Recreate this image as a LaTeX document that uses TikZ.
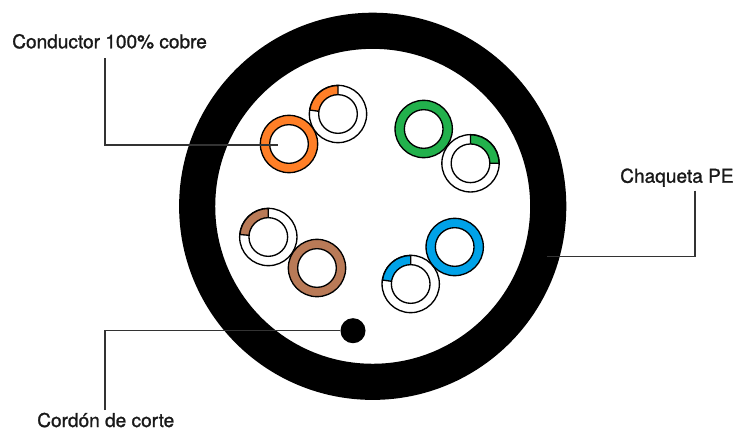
\documentclass[tikz,border=0pt]{standalone}
\usepackage{fontspec}
\setmainfont{TeX Gyre Heros}[FakeBold=1.2]
\definecolor{ink}{HTML}{333333}
\definecolor{cuorange}{HTML}{FF7F27}
\definecolor{cugreen}{HTML}{22B14C}
\definecolor{cublue}{HTML}{00A2E8}
\definecolor{cubrown}{HTML}{B97A57}

\begin{document}
\begin{tikzpicture}[x=0.75pt,y=0.75pt,
  jacket/.style={circle, draw=black, line width=27.1pt, minimum size=263.3pt, inner sep=0pt},
  wire/.style={circle, draw=black, line width=1pt, minimum size=43pt, inner sep=0pt},
  core/.style={circle, draw=black, line width=1pt, fill=white, minimum size=29pt, inner sep=0pt},
  ripcord/.style={circle, fill=black, minimum size=18.8pt, inner sep=0pt},
  lead/.style={draw=ink, line width=0.8pt},
  label/.style={font=\fontsize{14.3}{17}\selectfont, text=black!90, inner sep=0pt}]

\useasboundingbox (0,0) rectangle (746,430);

% ------------------------------------------------------------------ jacket
\node[jacket] (pe) at (372.7,223.7) {};

% striped wires: colour band on a quarter of the insulation
\foreach \name/\x/\y/\col/\from/\to in {
    stripeO/338/316/cuorange/90/172,
    stripeG/470.5/266.7/cugreen/0/90,
    stripeB/410.7/146/cublue/90/172,
    stripeN/268.3/193/cubrown/90/175} {
  \node[wire, fill=white] (\name) at (\x,\y) {};
  \draw[fill=\col, line width=1pt]
    (\x,\y) ++(\from:28.5) arc (\from:\to:28.5) -- ++(\to:-9.5) arc (\to:\from:19) -- cycle;
  \node[core] at (\name.center) {};
}

% solid wires
\foreach \name/\x/\y/\col in {
    solidO/289/286/cuorange,
    solidG/423.7/301/cugreen,
    solidB/454.7/183/cublue,
    solidN/317/162/cubrown} {
  \node[wire, fill=\col] (\name) at (\x,\y) {};
  \node[core] at (\name.center) {};
}

\node[ripcord] (cut) at (353,99.3) {};

% ------------------------------------------------------------------ labels
\node[label, anchor=base west] (condLabel) at (12,381.7) {Conductor 100\% cobre};
\node[label, anchor=base west] (peLabel) at (620,247.3) {Chaqueta PE};
\node[label, anchor=base west] (cutLabel) at (37,3) {Cordón de corte};

\coordinate (condTop) at (105,372);
\coordinate (condEnd) at (278,285);
\coordinate (peTop) at (695,239.3);
\coordinate (peEnd) at (547,173.3);
\coordinate (cutFoot) at (105,20);

\draw[lead] (condTop) |- (condEnd);
\draw[lead] (peTop) |- (peEnd);
\draw[lead] (cutFoot) |- (cut.west);
\end{tikzpicture}
\end{document}
